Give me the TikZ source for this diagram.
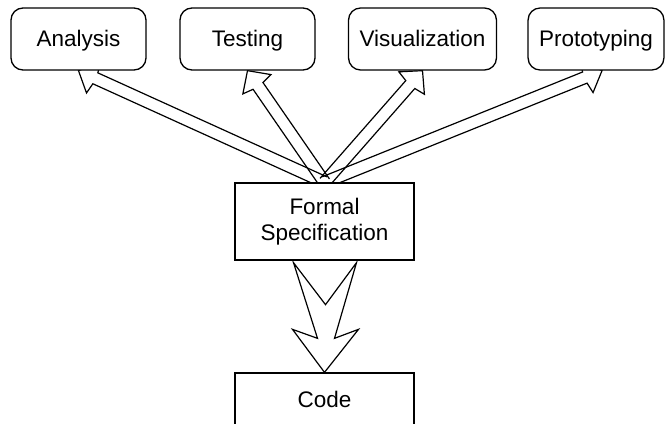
\documentclass[tikz,border=0pt]{standalone}
\usepackage{fontspec}
\setmainfont{Liberation Sans}
\usetikzlibrary{calc,backgrounds}

\tikzset{
    topbox/.style={draw, line width=1.3pt, rounded corners=12pt, fill=white,
        minimum width=135pt, minimum height=62pt, inner xsep=11pt,
        text height=17pt, text depth=3pt},
    specbox/.style={draw, line width=1.3pt, fill=white, align=center,
        minimum width=179pt, minimum height=77pt},
    hollow/.style={draw, line width=1.2pt, line join=miter}
}

% outlined arrow from #1 (tail) to #2 (tip)
\newcommand{\hollowarrow}[2]{%
    \path ($(#2)!16.5pt!(#1)$) coordinate (ha-barb)
          ($(#2)!18.5pt!(#1)$) coordinate (ha-back);
    \draw[hollow] ($(#1)!6pt!90:(#2)$) -- ($(ha-back)!6pt!90:(#2)$)
        -- ($(ha-barb)!17pt!90:(#2)$) -- (#2)
        -- ($(ha-barb)!17pt!-90:(#2)$) -- ($(ha-back)!6pt!-90:(#2)$)
        -- ($(#1)!6pt!-90:(#2)$);
}

\begin{document}
\begin{tikzpicture}[x=1pt, y=-1pt, font=\fontsize{22.5}{26.5}\selectfont]
    \useasboundingbox (0,0) rectangle (666,423);

    % uses of the specification
    \node[topbox] (analysis) at (78.5,39) {Analysis};
    \node[topbox] (testing) at (247.5,39) {Testing};
    \node[topbox] (visual) at (422.5,39) {Visualization};
    \node[topbox] (proto) at (596,39) {Prototyping};

    \node[specbox] (spec) at (324.5,221.5) {Formal\\Specification};
    \node[specbox, minimum height=53pt] (code) at (324.5,399.5) {Code};

    \coordinate (protoin) at ($(proto.south)+(6,0)$);

    \begin{scope}[on background layer]
        \hollowarrow{spec.north}{analysis.south}
        \hollowarrow{spec.north}{testing.south}
        \hollowarrow{spec.north}{visual.south}
        \hollowarrow{spec.north}{protoin}
    \end{scope}

    % refinement into code
    \draw[hollow] ($(spec.south)+(-31,2)$) -- ($(spec.south)+(1,44)$)
        -- ($(spec.south)+(32,2)$) -- ($(code.north)+(10,-34)$)
        -- ($(code.north)+(34,-43)$) -- (code.north)
        -- ($(code.north)+(-32,-43)$) -- ($(code.north)+(-7,-34)$) -- cycle;
\end{tikzpicture}
\end{document}
